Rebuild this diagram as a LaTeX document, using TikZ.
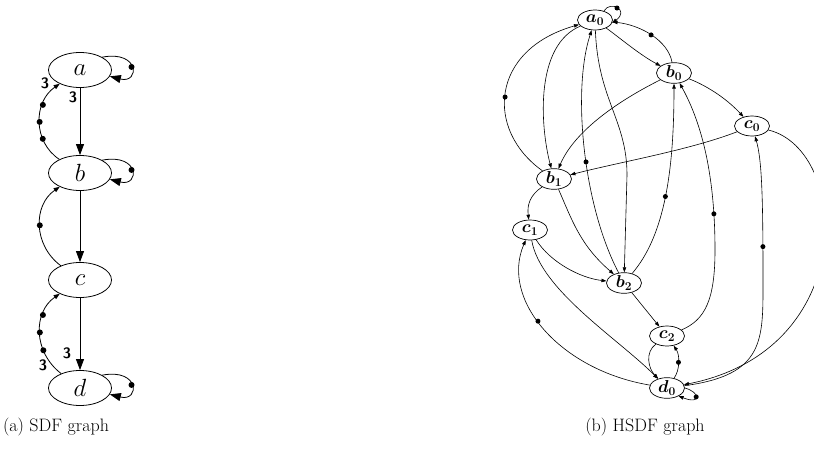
\documentclass[tikz,border=0pt]{standalone}
\usetikzlibrary{shapes.geometric,arrows.meta}
\tikzset{
 sdfnode/.style={draw, ellipse, minimum width=63pt, minimum height=35pt, inner sep=0pt, line width=0.8pt, font=\fontsize{25}{25}\selectfont},
 hnode/.style={draw, ellipse, minimum width=35pt, minimum height=20pt, inner sep=0pt, line width=0.7pt, font=\fontsize{17}{17}\selectfont\boldmath},
 sdfbig/.style={line width=0.8pt, -{Triangle[length=11pt,width=8pt]}},
 sdfsmall/.style={line width=0.8pt, -{Triangle[length=6pt,width=4.5pt]}},
 harr/.style={line width=0.6pt, -{Triangle[length=5pt,width=3.5pt]}},
 tok/.style={circle, fill, inner sep=0pt, minimum size=6pt},
 htok/.style={circle, fill, inner sep=0pt, minimum size=5pt},
 ratelabel/.style={font=\sffamily\bfseries\fontsize{15}{15}\selectfont, inner sep=0pt},
 captext/.style={font=\fontsize{18}{21}\selectfont, inner sep=0pt}
}
\begin{document}
\begin{tikzpicture}[x=1pt,y=-1pt]
\useasboundingbox (0,0) rectangle (814,452);
\clip (0,0) rectangle (814,452);
% ---------- SDF graph ----------
\node[sdfnode] (a) at (80,70) {$a$};
\node[sdfnode] (b) at (80,173) {$b$};
\node[sdfnode] (c) at (80,280) {$c$};
\node[sdfnode] (d) at (80,388) {$d$};
\draw[sdfbig] (a) -- (b);
\draw[sdfbig] (b) -- (c);
\draw[sdfbig] (c) -- (d);
\draw[sdfsmall] (b) .. controls (33,142) and (33,102) .. (a) node[tok,pos=0.3]{} node[tok,pos=0.5]{} node[tok,pos=0.7]{};
\draw[sdfsmall] (c) .. controls (33,245) and (33,205) .. (b) node[tok,pos=0.5]{};
\draw[sdfsmall] (d) .. controls (33,352) and (33,312) .. (c) node[tok,pos=0.3]{} node[tok,pos=0.5]{} node[tok,pos=0.7]{};
\draw[sdfbig] (a.30) .. controls (140,50) and (140,84) .. (a.-12) node[tok,pos=0.5]{};
\draw[sdfbig] (b.30) .. controls (140,153) and (140,187) .. (b.-12) node[tok,pos=0.5]{};
\draw[sdfbig] (d.30) .. controls (140,368) and (140,402) .. (d.-12) node[tok,pos=0.5]{};
\node[ratelabel] (r1) at (73,97) {3};
\node[ratelabel] (r2) at (45,83) {3};
\node[ratelabel] (r3) at (67,353) {3};
\node[ratelabel] (r4) at (43,365) {3};
\node[captext] (capa) at (56,427) {(a) SDF graph};
% ---------- HSDF graph ----------
\node[hnode] (a0) at (595,20) {$a_0$};
\node[hnode] (b0) at (674,73) {$b_0$};
\node[hnode] (c0) at (752,126) {$c_0$};
\node[hnode] (b1) at (554,179) {$b_1$};
\node[hnode] (c1) at (530,230) {$c_1$};
\node[hnode] (b2) at (624,283) {$b_2$};
\node[hnode] (c2) at (667,336) {$c_2$};
\node[hnode] (d0) at (667,388) {$d_0$};
\draw[harr] (a0.45) .. controls (610,0) and (630,10) .. (a0.-10) node[htok,pos=0.5]{};
\draw[harr] (a0) .. controls (620,38) and (640,55) .. (b0);
\draw[harr] (b0) .. controls (668,40) and (640,25) .. (a0) node[htok,pos=0.5]{};
\draw[harr] (a0) .. controls (535,45) and (540,125) .. (b1);
\draw[harr] (b1) .. controls (485,130) and (490,50) .. (a0) node[htok,pos=0.47]{};
\draw[harr] (a0) .. controls (598,100) and (627,120) .. (627,175) -- (b2);
\draw[harr] (b2) .. controls (583,205) and (572,90) .. (a0) node[htok,pos=0.45]{};
\draw[harr] (b0) .. controls (620,100) and (575,130) .. (b1);
\draw[harr] (b0) .. controls (705,85) and (725,97) .. (c0);
\draw[harr] (c0) .. controls (690,150) and (620,162) .. (b1);
\draw[harr] (b1) .. controls (572,220) and (580,245) .. (b2);
\draw[harr] (b1) .. controls (530,195) and (527,205) .. (c1);
\draw[harr] (c1) .. controls (550,262) and (580,278) .. (b2);
\draw[harr] (c1) .. controls (540,290) and (620,340) .. (d0);
\draw[harr] (d0) .. controls (560,370) and (500,300) .. (c1) node[htok,pos=0.55]{};
\draw[harr] (b2) -- (c2);
\draw[harr] (c2) .. controls (705,320) and (715,300) .. (715,250) .. controls (715,170) and (700,120) .. (b0) node[htok,pos=0.16]{};
\draw[harr] (b2) .. controls (665,235) and (674,170) .. (b0) node[htok,pos=0.5]{};
\draw[harr] (c2) .. controls (645,352) and (648,368) .. (d0);
\draw[harr] (d0) .. controls (680,370) and (680,355) .. (c2) node[htok,pos=0.5]{};
\draw[harr] (c0) .. controls (850,150) and (860,350) .. (d0);
\draw[harr] (d0) .. controls (765,375) and (763,340) .. (763,280) .. controls (763,200) and (762,160) .. (c0) node[htok,pos=0.15]{};
\draw[harr] (d0.0) .. controls (700,392) and (702,405) .. (d0.-35) node[htok,pos=0.5]{};
\node[captext] (capb) at (645,427) {(b) HSDF graph};
\end{tikzpicture}
\end{document}
